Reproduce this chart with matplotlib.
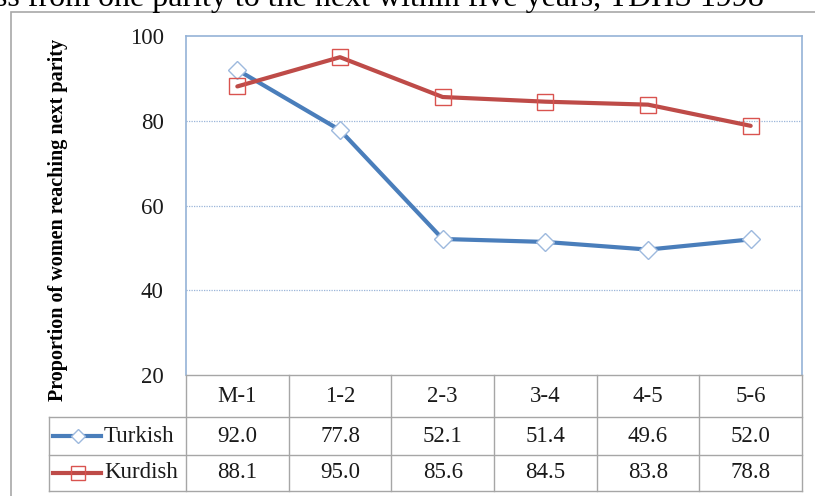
import matplotlib
matplotlib.use("Agg")
import matplotlib.pyplot as plt
from matplotlib.transforms import blended_transform_factory
from matplotlib.lines import Line2D
from matplotlib.patches import Rectangle

# Parity transitions and percentages
categories = ["M-1", "1-2", "2-3", "3-4", "4-5", "5-6"]
turkish = [92.0, 77.8, 52.1, 51.4, 49.6, 52.0]
kurdish = [88.1, 95.0, 85.6, 84.5, 83.8, 78.8]
series_names = ["Turkish", "Kurdish"]
y_ticks = [20, 40, 60, 80, 100]
title_text = "ss from one parity to the next within five years, TDHS 1998"
y_label = "Proportion of women reaching next parity"

SERIF = ["Liberation Serif", "DejaVu Serif"]
plt.rcParams["font.family"] = SERIF

W, H = 815, 496
fig = plt.figure(figsize=(W / 100, H / 100), dpi=100)


def fy(p):
    return 1 - p / H


def fx(p):
    return p / W


# outer frame
fig.patches.append(Rectangle((fx(11), fy(520)), fx(830), fy(12) - fy(520),
                             transform=fig.transFigure, fill=False,
                             edgecolor="#A8A8A8", lw=1.2))

# title (partially cut at the top edge)
fig.text(fx(-5), fy(6), title_text, fontsize=23, ha="left", va="baseline",
         color="black")

ax_l, ax_r, ax_t, ax_b = 186, 802, 36, 375
ax = fig.add_axes([fx(ax_l), fy(ax_b), fx(ax_r - ax_l), fy(ax_t) - fy(ax_b)])

x = list(range(len(categories)))
blue = "#4A7EBB"
red = "#BE4B48"
ax.plot(x, turkish, color=blue, lw=3.0, marker="D", ms=9, solid_capstyle="round",
        mfc="white", mec="#9DB9DE", mew=1.0, zorder=3)
ax.plot(x, kurdish, color=red, lw=3.0, marker="s", ms=11.5, solid_capstyle="round",
        mfc="none", mec="#D9534F", mew=1.0, zorder=3)

ax.set_xlim(-0.5, len(categories) - 0.5)
ax.set_ylim(20, 100)
ax.set_yticks(y_ticks)
ax.set_xticks([])
ax.tick_params(axis="y", length=0, pad=16, labelsize=16.5, labelcolor="#1a1a1a")
for t in ax.get_yticklabels():
    t.set_fontfamily(SERIF)
for yv in y_ticks[1:-1]:
    ax.axhline(yv, color="#9BB5D9", lw=0.9, ls=(0, (1, 1)), zorder=1)
for s in ["top", "right", "left"]:
    ax.spines[s].set_color("#95B3D7")
    ax.spines[s].set_linewidth(1.2)
ax.spines["bottom"].set_color("#A6A6A6")
ax.spines["bottom"].set_linewidth(1.0)

fig.text(fx(58), fy(220), y_label, rotation=90, ha="center", va="center",
         fontsize=14.5, fontweight="bold", color="black")

# data table under the plot
tr = blended_transform_factory(ax.transData, fig.transFigure)
grid_c = "#A6A6A6"
row_tops = [375, 417, 455, 491]
n = len(categories)
for k in range(n + 1):
    ax.add_line(Line2D([k - 0.5, k - 0.5], [fy(375), fy(491)], transform=tr,
                       color=grid_c, lw=1.0, clip_on=False))
for yp in row_tops[1:]:
    fig.lines.append(Line2D([fx(49), fx(802)], [fy(yp), fy(yp)],
                            transform=fig.transFigure, color=grid_c, lw=1.0))
fig.lines.append(Line2D([fx(49), fx(49)], [fy(417), fy(491)],
                        transform=fig.transFigure, color=grid_c, lw=1.0))

row_centres = [(row_tops[i] + row_tops[i + 1]) / 2 for i in range(3)]
for k, c in enumerate(categories):
    ax.text(k, fy(row_centres[0]), c, transform=tr, ha="center", va="center",
            fontsize=16.5, color="#1a1a1a", clip_on=False)
for vals, rc in zip([turkish, kurdish], row_centres[1:]):
    for k, v in enumerate(vals):
        ax.text(k, fy(rc), f"{v:.1f}", transform=tr, ha="center",
                va="center", fontsize=16.5, color="#1a1a1a", clip_on=False)

# legend keys in the table row headers
styles = [(blue, "D", 7.5, "white", "#9DB9DE"), (red, "s", 10, "none", "#D9534F")]
for name, rc, (col, mk, ms, mfc, mec) in zip(series_names, row_centres[1:], styles):
    fig.lines.append(Line2D([fx(53), fx(101)], [fy(rc), fy(rc)],
                            transform=fig.transFigure, color=col, lw=3.0))
    fig.lines.append(Line2D([fx(78)], [fy(rc)], transform=fig.transFigure,
                            marker=mk, ms=ms, mfc=mfc, mec=mec, mew=1.0, lw=0))
    fig.text(fx(104), fy(rc), name, ha="left", va="center", fontsize=16.5,
             color="#1a1a1a")

fig.savefig("out.png", dpi=100)
